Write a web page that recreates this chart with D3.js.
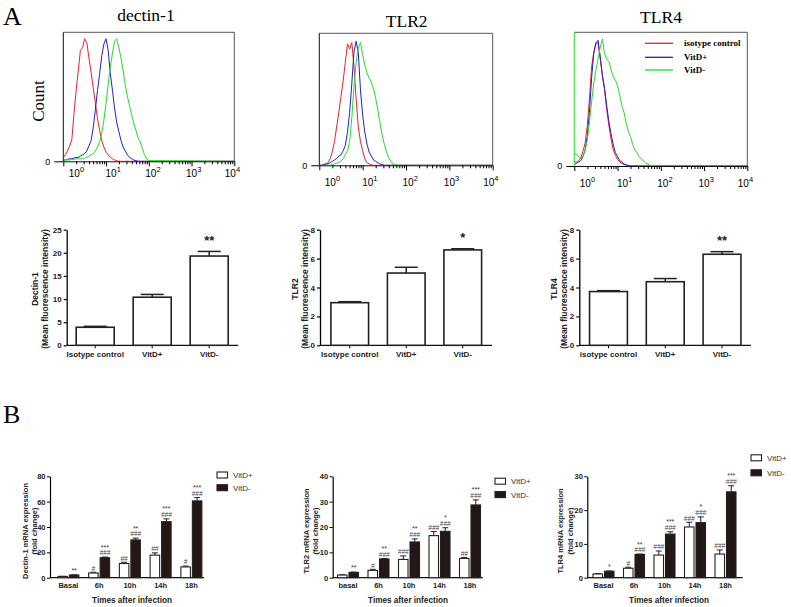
<!DOCTYPE html>
<html><head><meta charset="utf-8">
<script src="https://cdn.jsdelivr.net/npm/d3@7"></script>
<style>body{margin:0;background:#fff}svg{display:block}</style>
</head><body>
<script>
// ---------- DATA ----------
// Flow-cytometry histograms: log10 fluorescence bin positions and counts (% of max scale)
const histLog = [0,0.05,0.1,0.15,0.2,0.25,0.3,0.35,0.4,0.45,0.5,0.55,0.6,0.65,0.7,0.75,0.8,0.85,0.9,0.95,1,1.05,1.1,1.15,1.2,1.25,1.3,1.35,1.4,1.45,1.5,1.55,1.6,1.65,1.7,1.75,1.8,1.85,1.9,1.95,2,4];
const histTickExp = [0,1,2,3,4];
const dectinIso   = [3,5,8,12,17,37,55,70,86,88,95,92,80,69,57,45,33,24,16,11,7,5,3,2,1,0.5,0,0,0,0,0,0,0,0,0,0,0,0,0,0,0,0];
const dectinPlus  = [1,1,1.5,2,2,2.5,3,3,4,5,6,8,12,16,26,40,55,68,82,91,95,86,68,55,41,30,23,16,11,8,5,3,2,1,0.5,0,0,0,0,0,0,0];
const dectinMinus = [1,1,1,1,1.5,1.5,2,2,2,2,2.5,3,4,5,6,8,11,15,22,32,45,60,73,84,93,95,88,80,70,59,50,43,36,29,24,18,15,10,5,2,0.5,0];
const tlr2Iso     = [0,0,0.5,1,2,5,10,18,29,40,52,64,78,92,88,93,75,50,29,18,11,5,2,1,0.5,0,0,0,0,0,0,0,0,0,0,0,0,0,0,0,0,0];
const tlr2Plus    = [0,0,0.5,1,1,2,3,4,5,7,8,11,15,25,40,62,86,94,85,57,38,25,16,10,7,4,3,2,1,0.5,0,0,0,0,0,0,0,0,0,0,0,0];
const tlr2Minus   = [0,0,0,0,0,0,0.5,1,1.5,2,3,5,8,11,18,36,60,78,89,93,84,76,70,66,63,58,51,42,32,23,16,10,6,3,1,0.5,0,0,0,0,0,0];
const tlr4Iso     = [3,3,4,6,11,17,30,50,74,85,92,92,80,67,57,42,30,20,12,8,5,3,2,1,0.5,0,0,0,0,0,0,0,0,0,0,0,0,0,0,0,0,0];
const tlr4Plus    = [1,2,3,4,7,12,22,40,66,84,92,94,82,68,58,45,33,24,16,10,7,4,3,1.5,1,0.5,0,0,0,0,0,0,0,0,0,0,0,0,0,0,0,0];
const tlr4Minus   = [9,9,7,6,7,12,19,33,48,62,72,80,89,95,84,80,78,72,67,64,60,53,45,40,32,26,22,16,12,10,7,5,4,2,1.5,0.5,0,0,0,0,0,0];
const histLegend  = ["isotype control","VitD+","VitD-"];

// Mean fluorescence intensity bars
const mfiCats      = ["Isotype control","VitD+","VitD-"];
const mfiCatsTLR4  = ["isotype control","VitD+","VitD-"];
const dectinMFI    = [3.9,10.4,19.3];
const dectinMFIErr = [0.2,0.6,1.0];
const dectinMFISig = ["","","**"];
const tlr2MFI      = [2.95,5.0,6.6];
const tlr2MFIErr   = [0.07,0.4,0.08];
const tlr2MFISig   = ["","","*"];
const tlr4MFI      = [3.72,4.4,6.3];
const tlr4MFIErr   = [0.06,0.22,0.18];
const tlr4MFISig   = ["","","**"];
const dectinMFITicks = [0,5,10,15,20,25];
const tlrMFITicks    = [0,2,4,6,8];

// mRNA time course
const timeCats      = ["Basal","6h","10h","14h","18h"];
const timeCatsTLR2  = ["basal","6h","10h","14h","18h"];
const seriesNames   = ["VitD+","VitD-"];
const dectinP    = [1.0,3.7,11.2,17.8,8.5];
const dectinPErr = [0.1,0.6,1.0,1.8,0.7];
const dectinM    = [2.1,15.8,29.8,44.2,60.6];
const dectinMErr = [0.2,0.5,1.4,2.2,2.6];
const dectinPHash = ["","#","##","##","#"];
const dectinMHash = ["","###","###","###","###"];
const dectinMStar = ["**","***","**","***","***"];
const tlr2P    = [1.05,2.9,7.2,16.6,7.6];
const tlr2PErr = [0.1,0.4,1.4,1.6,0.4];
const tlr2M    = [2.1,7.4,14.1,18.3,28.7];
const tlr2MErr = [0.1,0.2,1.2,1.4,2.0];
const tlr2PHash = ["","#","###","###","##"];
const tlr2MHash = ["","###","###","###","###"];
const tlr2MStar = ["**","**","**","*","***"];
const tlr4P    = [1.1,2.8,6.7,15.0,7.0];
const tlr4PErr = [0.1,0.3,1.2,1.4,1.2];
const tlr4M    = [1.9,6.9,12.9,16.3,25.4];
const tlr4MErr = [0.1,0.1,0.7,1.7,1.8];
const tlr4PHash = ["","#","###","###","###"];
const tlr4MHash = ["","###","###","###","###"];
const tlr4MStar = ["*","**","***","*","***"];
const dectinTimeTicks = [0,20,40,60,80];
const tlr2TimeTicks   = [0,10,20,30,40];
const tlr4TimeTicks   = [0,10,20,30];

// ---------- DRAWING ----------
const W = 791, H = 607;
const SERIF = "'Liberation Serif','Times New Roman',Times,serif";
const SANS  = "'Liberation Sans',Arial,Helvetica,sans-serif";
const RED = "#ee1f26", BLUE = "#1f1fd6", GREEN = "#22dd22", DARK = "#231815";
const svg = d3.select("body").append("svg").attr("width", W).attr("height", H);

svg.append("text").attr("x", 3).attr("y", 25).attr("font-family", SERIF).attr("font-size", 26).text("A");
svg.append("text").attr("x", 3).attr("y", 423).attr("font-family", SERIF).attr("font-size", 26).text("B");

function drawHist(o) {
  const g = svg.append("g");
  const x = d3.scaleLog().domain([1, 1e4]).range([o.x0, o.x1]);
  const y = d3.scaleLinear().domain([0, 100]).range([o.base, o.top]);
  g.append("text").attr("x", o.titleX).attr("y", o.titleY).attr("text-anchor", "middle")
    .attr("font-family", SERIF).attr("font-size", 17.5).text(o.title);
  g.append("path").attr("d", `M${o.x0},${o.top}H${o.x1}V${o.base}`)
    .attr("fill", "none").attr("stroke", "#555").attr("stroke-width", 1);
  const cid = "clip" + o.id;
  g.append("clipPath").attr("id", cid).append("rect")
    .attr("x", o.x0).attr("y", o.top - 2).attr("width", o.x1 - o.x0).attr("height", o.base - o.top + 2);
  const line = d3.line().x((d, i) => x(Math.pow(10, histLog[i]))).y(d => y(d));
  o.series.forEach(s => g.append("path").attr("clip-path", `url(#${cid})`).attr("d", line(s.values))
    .attr("fill", "none").attr("stroke", s.color).attr("stroke-width", 1));
  g.append("line").attr("x1", o.x0).attr("x2", o.x0).attr("y1", o.top).attr("y2", o.base)
    .attr("stroke", o.leftColor || "#111").attr("stroke-width", 1);
  const ya = g.append("g").attr("transform", `translate(${o.x0},0)`)
    .call(d3.axisLeft(y).tickValues([0]).tickSize(o.zeroTick).tickPadding(4).tickFormat(d3.format("d")));
  ya.select(".domain").remove();
  ya.selectAll("text").attr("font-family", SANS).attr("font-size", 9);
  const minor = [];
  for (let e = 0; e < 4; e++) for (let m = 2; m < 10; m++) minor.push(m * Math.pow(10, e));
  const xm = g.append("g").attr("transform", `translate(0,${o.base})`)
    .call(d3.axisBottom(x).tickValues(minor).tickSize(3).tickSizeOuter(0).tickFormat(""));
  xm.select(".domain").attr("stroke", "#111");
  g.append("g").attr("transform", `translate(0,${o.base})`)
    .call(d3.axisBottom(x).tickValues(histTickExp.map(p => Math.pow(10, p))).tickSize(5).tickSizeOuter(0).tickFormat(""))
    .select(".domain").remove();
  const shifts = [11, 5, 2, 0, -4];
  histTickExp.forEach((p, i) => {
    const t = g.append("text").attr("x", x(Math.pow(10, p)) + shifts[i] - 5.5).attr("y", o.labelY)
      .attr("font-family", SANS).attr("font-size", 10);
    t.append("tspan").text("10");
    t.append("tspan").attr("dy", -5).attr("font-size", 7.5).text(p);
  });
  if (o.count) {
    g.append("text").attr("transform", `translate(44,101) rotate(-90)`).attr("text-anchor", "middle")
      .attr("font-family", SERIF).attr("font-size", 17).text("Count");
  }
  if (o.legend) {
    const cols = [RED, BLUE, GREEN];
    const ly = [43.3, 57.3, 70];
    histLegend.forEach((n, i) => {
      g.append("line").attr("x1", 645).attr("x2", 673).attr("y1", ly[i]).attr("y2", ly[i])
        .attr("stroke", cols[i]).attr("stroke-width", 1.3);
      g.append("text").attr("x", 684).attr("y", ly[i] + 3).attr("font-family", SERIF)
        .attr("font-weight", "bold").attr("font-size", 9).text(n);
    });
  }
}

drawHist({id: 1, x0: 63.3, x1: 234.3, top: 32.3, base: 161.3, labelY: 177, title: "dectin-1", titleX: 146, titleY: 21,
  zeroTick: 9, count: true,
  series: [{values: dectinIso, color: RED}, {values: dectinPlus, color: BLUE}, {values: dectinMinus, color: GREEN}]});
drawHist({id: 2, x0: 319.3, x1: 492.7, top: 33.3, base: 165.3, labelY: 186, title: "TLR2", titleX: 406.7, titleY: 27.3,
  zeroTick: 8,
  series: [{values: tlr2Iso, color: RED}, {values: tlr2Plus, color: BLUE}, {values: tlr2Minus, color: GREEN}]});
drawHist({id: 3, x0: 574.3, x1: 747.3, top: 32.3, base: 166, labelY: 187, title: "TLR4", titleX: 661, titleY: 23.3,
  zeroTick: 8, legend: true, leftColor: GREEN,
  series: [{values: tlr4Iso, color: RED}, {values: tlr4Plus, color: BLUE}, {values: tlr4Minus, color: GREEN}]});

function drawMFI(o) {
  const g = svg.append("g");
  const y0 = 345.3;
  const x = d3.scaleBand().domain(o.cats).range([o.b0, o.b1]).paddingInner(0.333).paddingOuter(0.1665);
  const y = d3.scaleLinear().domain([0, o.max]).range([y0, 229.7]);
  const ya = g.append("g").attr("transform", `translate(${o.ax},0)`)
    .call(d3.axisLeft(y).tickValues(o.ticks).tickSize(3).tickPadding(2).tickSizeOuter(0).tickFormat(d3.format("d")));
  ya.select(".domain").attr("stroke-width", 1.3);
  ya.selectAll("line").attr("stroke-width", 1.2);
  ya.selectAll("text").attr("font-family", SANS).attr("font-weight", "bold").attr("font-size", 8).attr("fill", "#222");
  const xa = g.append("g").attr("transform", `translate(0,${y0})`)
    .call(d3.axisBottom(x).tickSize(3).tickPadding(3.5).tickSizeOuter(0));
  xa.select(".domain").remove();
  xa.selectAll("text").attr("font-family", SANS).attr("font-weight", "bold").attr("font-size", 8).attr("fill", "#222");
  g.append("line").attr("x1", o.ax).attr("x2", o.axEnd).attr("y1", y0).attr("y2", y0)
    .attr("stroke", "#111").attr("stroke-width", 1.3);
  o.cats.forEach((c, i) => {
    const v = o.vals[i], e = o.errs[i], cx = x(c) + x.bandwidth() / 2;
    g.append("line").attr("x1", cx).attr("x2", cx).attr("y1", y(v)).attr("y2", y(v + e)).attr("stroke", "#222").attr("stroke-width", 1.5);
    g.append("line").attr("x1", cx - 11.5).attr("x2", cx + 11.5).attr("y1", y(v + e)).attr("y2", y(v + e)).attr("stroke", "#222").attr("stroke-width", 1.5);
    g.append("rect").attr("x", x(c)).attr("y", y(v)).attr("width", x.bandwidth()).attr("height", y0 - y(v))
      .attr("fill", "#fff").attr("stroke", "#222").attr("stroke-width", 1.6);
    if (o.sig[i]) g.append("text").attr("x", cx).attr("y", y(v + e) - 6.5).attr("text-anchor", "middle")
      .attr("font-family", SANS).attr("font-weight", "bold").attr("font-size", 13).attr("fill", "#222").text(o.sig[i]);
  });
  const cy = 289;
  [[o.l1x, o.label], [o.l2x, "(Mean fluorescence intensity)"]].forEach(([lx, t]) => {
    g.append("text").attr("transform", `translate(${lx},${cy}) rotate(-90)`).attr("text-anchor", "middle")
      .attr("font-family", SANS).attr("font-weight", "bold").attr("font-size", 8.5).attr("fill", "#222").text(t);
  });
}

drawMFI({cats: mfiCats, vals: dectinMFI, errs: dectinMFIErr, sig: dectinMFISig, max: 25, ticks: dectinMFITicks,
  ax: 66.7, axEnd: 238, b0: 66.7, b1: 237.7, label: "Dectin-1", l1x: 38, l2x: 48});
drawMFI({cats: mfiCats, vals: tlr2MFI, errs: tlr2MFIErr, sig: tlr2MFISig, max: 8, ticks: tlrMFITicks,
  ax: 320, axEnd: 492, b0: 321.5, b1: 491, label: "TLR2", l1x: 298, l2x: 308});
drawMFI({cats: mfiCatsTLR4, vals: tlr4MFI, errs: tlr4MFIErr, sig: tlr4MFISig, max: 8, ticks: tlrMFITicks,
  ax: 579.3, axEnd: 751, b0: 580.1, b1: 750.4, label: "TLR4", l1x: 557, l2x: 566.5});

function drawTime(o) {
  const g = svg.append("g");
  const y0 = 577.7;
  const x = d3.scaleBand().domain(o.cats).range([o.b0, o.b1]);
  const st = x.step();
  const sub = d3.scaleBand().domain(seriesNames).range([st / 2 - 10.5, st / 2 + 10.5]).paddingInner(0.174);
  const y = d3.scaleLinear().domain([0, o.max]).range([y0, 476.3]);
  const ya = g.append("g").attr("transform", `translate(${o.ax},0)`)
    .call(d3.axisLeft(y).tickValues(o.ticks).tickSize(3).tickPadding(1.5).tickSizeOuter(0).tickFormat(d3.format("d")));
  ya.select(".domain").attr("stroke-width", 1.2);
  ya.selectAll("text").attr("font-family", SANS).attr("font-weight", "bold").attr("font-size", 7.5).attr("fill", "#222");
  const xa = g.append("g").attr("transform", `translate(0,${y0})`)
    .call(d3.axisBottom(x).tickSize(0).tickPadding(5).tickSizeOuter(0));
  xa.select(".domain").remove();
  xa.selectAll("text").attr("font-family", SANS).attr("font-weight", "bold").attr("font-size", 7.5).attr("fill", "#222");
  g.append("line").attr("x1", o.ax).attr("x2", o.axEnd).attr("y1", y0).attr("y2", y0).attr("stroke", "#111").attr("stroke-width", 1.2);
  const series = [
    {name: "VitD+", vals: o.p, errs: o.pe, fill: "#fff", hash: o.ph, star: null},
    {name: "VitD-", vals: o.m, errs: o.me, fill: DARK, hash: o.mh, star: o.ms}
  ];
  o.cats.forEach((c, i) => {
    series.forEach(s => {
      const bx = x(c) + sub(s.name), bw = sub.bandwidth(), v = s.vals[i], e = s.errs[i], cx = bx + bw / 2;
      g.append("line").attr("x1", cx).attr("x2", cx).attr("y1", y(v)).attr("y2", y(v + e)).attr("stroke", "#222").attr("stroke-width", 1);
      g.append("line").attr("x1", cx - 3).attr("x2", cx + 3).attr("y1", y(v + e)).attr("y2", y(v + e)).attr("stroke", "#222").attr("stroke-width", 1);
      g.append("rect").attr("x", bx).attr("y", y(v)).attr("width", bw).attr("height", y0 - y(v))
        .attr("fill", s.fill).attr("stroke", "#222").attr("stroke-width", 1.1);
      let ty = y(v + e) - 4;
      if (s.hash[i]) {
        g.append("text").attr("x", cx).attr("y", ty + 2.3).attr("text-anchor", "middle").attr("font-family", SANS)
          .attr("font-style", "italic").attr("font-size", 6.5).attr("fill", "#444").text(s.hash[i]);
        ty -= 7.5;
      } else ty -= 2;
      if (s.star && s.star[i]) {
        g.append("text").attr("x", cx).attr("y", ty + 4).attr("text-anchor", "middle").attr("font-family", SANS)
          .attr("font-size", 7).attr("fill", "#333").text(s.star[i]);
      }
    });
  });
  [[o.l1x, o.label], [o.l2x, "(fold change)"]].forEach(([lx, t]) => {
    g.append("text").attr("transform", `translate(${lx},531) rotate(-90)`).attr("text-anchor", "middle")
      .attr("font-family", SANS).attr("font-weight", "bold").attr("font-size", 7.5).attr("fill", "#222").text(t);
  });
  g.append("text").attr("x", o.titleX).attr("y", 603).attr("text-anchor", "middle").attr("font-family", SANS)
    .attr("font-weight", "bold").attr("font-size", 8.2).attr("fill", "#222").text("Times after infection");
  seriesNames.forEach((n, i) => {
    const ly = o.legY + i * o.legGap;
    g.append("rect").attr("x", o.legX).attr("y", ly - 3).attr("width", 10.5).attr("height", 6)
      .attr("fill", i ? DARK : "#fff").attr("stroke", "#222").attr("stroke-width", 1.1);
    g.append("text").attr("x", o.legX + 16).attr("y", ly + 3).attr("font-family", SANS).attr("font-size", 8)
      .attr("fill", "#333").text(n);
  });
}

drawTime({cats: timeCats, p: dectinP, pe: dectinPErr, m: dectinM, me: dectinMErr, ph: dectinPHash, mh: dectinMHash, ms: dectinMStar,
  max: 80, ticks: dectinTimeTicks, ax: 50, axEnd: 204, b0: 53, b1: 206.75, label: "Dectin-1 mRNA expression",
  l1x: 28, l2x: 36.5, titleX: 132, legX: 217, legY: 475, legGap: 12.7});
drawTime({cats: timeCatsTLR2, p: tlr2P, pe: tlr2PErr, m: tlr2M, me: tlr2MErr, ph: tlr2PHash, mh: tlr2MHash, ms: tlr2MStar,
  max: 40, ticks: tlr2TimeTicks, ax: 332.7, axEnd: 482.7, b0: 332.75, b1: 485.25, label: "TLR2 mRNA expression",
  l1x: 309, l2x: 318, titleX: 408, legX: 495, legY: 481.2, legGap: 13.4});
drawTime({cats: timeCats, p: tlr4P, pe: tlr4PErr, m: tlr4M, me: tlr4MErr, ph: tlr4PHash, mh: tlr4MHash, ms: tlr4MStar,
  max: 30, ticks: tlr4TimeTicks, ax: 587.3, axEnd: 742.7, b0: 588.25, b1: 740.75, label: "TLR4 mRNA expression",
  l1x: 563, l2x: 573, titleX: 669, legX: 751, legY: 457.8, legGap: 15});
</script>
</body></html>
